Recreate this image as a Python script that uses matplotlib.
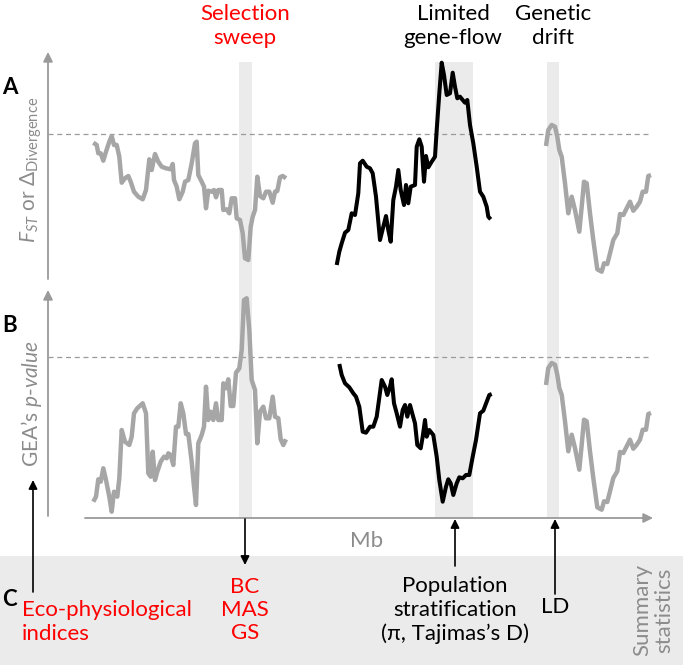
import numpy as np
import matplotlib
matplotlib.use("Agg")
import matplotlib.pyplot as plt

plt.rcParams['font.family'] = ['Lato', 'DejaVu Sans']
plt.rcParams['mathtext.fontset'] = 'custom'
plt.rcParams['mathtext.rm'] = 'Lato'
plt.rcParams['mathtext.it'] = 'Lato:italic'

# curves, in picture units (x to the right, y downwards)
a_left_x = [93.3, 96.7, 98.3, 100.7, 103.3, 106, 109.3, 111.7, 114, 116.7, 119.3, 121.7, 125, 128.3,
            130.7, 134, 138.3, 142.7, 146, 149.3, 151.7, 155, 158.3, 161.7, 166, 170.7, 172.7, 174,
            176.7, 179.3, 182.7, 185, 188.3, 191.7, 195, 196.7, 198.3, 201.7, 204, 206, 208.3, 211.7,
            214, 216, 218.3, 221.7, 223.3, 226.7, 229.3, 231.7, 235, 236.7, 240, 242.7, 245, 248.3,
            250.7, 252.7, 255, 257.3, 260, 263.3, 266, 269.3, 272.7, 275, 277.3, 280, 282.7, 286]
a_left_y = [142.7, 145, 153.3, 153.3, 160.7, 151.7, 141.7, 136, 145, 145, 156.7, 182.7, 178.3, 176,
            181.7, 191.7, 196.7, 199.3, 190, 159.3, 170, 154, 161.7, 166.7, 168.3, 169.3, 164, 180,
            186.7, 199.3, 191.7, 181.7, 180, 163.3, 143.3, 141.7, 175, 181.7, 186.7, 208.3, 190.7, 191.7,
            190, 197.3, 190, 190, 210, 209.3, 213.3, 198.3, 198.3, 218.3, 220, 233.3, 258.3, 260,
            226.7, 216.7, 210, 176.7, 196, 198.3, 191.7, 191.7, 202.7, 191.7, 191, 177.3, 176, 178.3]

a_mid_x = [336.7, 339.3, 341.7, 345, 348.3, 351.7, 355, 358.3, 360, 362.7, 366.7, 370, 372.7, 376,
           380, 383.3, 386, 388.3, 390.7, 393.3, 396, 398.3, 400.7, 404, 406, 408.3, 410.7, 415,
           416.7, 419.3, 421.7, 424, 426, 428.3, 431.7, 435, 436.7, 439.3, 441.7, 444, 446.7, 450,
           452.7, 455, 457.3, 460, 462.7, 465, 467.3, 470, 473.3, 476.7, 480, 483.3, 486.7, 488.3, 490.7]
a_mid_y = [265, 251.7, 243.3, 232.7, 230, 213.3, 215, 193.3, 163.3, 160.7, 166.7, 168.3, 173.3, 196.7,
           240, 226.7, 216, 230, 241.7, 200, 186.7, 170, 190, 205, 185, 203.3, 186.7, 185,
           146.7, 139.3, 146.7, 181.7, 156, 167.3, 161.7, 156.7, 130, 93.3, 62.7, 75, 95, 93.3,
           72.7, 86.7, 98.3, 96.7, 100, 102.7, 100, 125, 143.3, 166.7, 191.7, 196.7, 206.7, 216.7, 219.3]

a_right_x = [546, 548.3, 551.7, 555, 557.3, 559.3, 561.7, 565, 568.3, 571.7, 575, 579.3, 581.7, 584,
             586.7, 590, 593.3, 597.3, 601.7, 604, 607.3, 610, 613.3, 617.3, 620, 623.3, 626.7, 630,
             633.3, 636.7, 640, 642.7, 646, 648.3, 651]
a_right_y = [146, 130, 125, 126.7, 136.7, 150, 156.7, 183.3, 213.3, 196.7, 210, 231.7, 206.7, 181.7,
             183.3, 213.3, 240, 269.3, 271.7, 263.3, 264, 253.3, 240, 233.3, 214, 215, 208.3, 201.7,
             210.7, 206.7, 201.7, 191.7, 191.7, 176, 175]

b_left_x = [93.3, 96, 98.3, 100.7, 103.3, 106, 109.3, 111.7, 114, 117.3, 119.3, 121.7, 125, 129.3,
            131.7, 134, 137.3, 142.7, 146, 148.3, 150.7, 152.7, 155, 157.3, 160.7, 164, 166.7, 168.3,
            170.7, 173.3, 176, 178.3, 180.7, 183.3, 186, 188.3, 191.7, 194, 196, 198.3, 201.7, 204,
            206, 208.3, 210.7, 213.3, 216, 218.3, 221.7, 223.3, 226, 228.3, 230.7, 233.3, 236, 239.3,
            241.7, 244, 246.7, 249.3, 251.7, 255, 257.3, 260, 263.3, 266, 269.3, 272.7, 275, 278.3,
            280.7, 283.3, 286]
b_left_y = [501.7, 496.7, 479.3, 481.7, 468.3, 480, 496.7, 511.7, 491.7, 496.7, 478.3, 430, 441.7, 445,
            436.7, 413.3, 408.3, 403.3, 413.3, 473.3, 476.7, 451.7, 480, 471.7, 461.7, 456.7, 458.3, 453.3,
            455, 465, 426.7, 426.7, 403.3, 413.3, 434, 434, 461.7, 486.7, 505, 443.3, 435, 426.7,
            386.7, 420, 411.7, 420, 403.3, 420, 420, 383.3, 388.3, 379.3, 406, 406, 372.7, 368.3,
            350, 300, 298.3, 330, 380, 390, 443.3, 411.7, 406.7, 418.3, 418.3, 396.7, 416.7, 418.3,
            439.3, 445, 439.3]

b_mid_x = [339.3, 341.7, 345, 349.3, 353.3, 356, 359.3, 362.7, 366, 370, 373.3, 376.7, 381.7, 385,
           387.3, 390, 391.7, 394, 396.7, 400, 402.7, 405, 407.3, 410, 412.7, 415, 417.3, 420.7,
           422.7, 425, 426.7, 429.3, 433.3, 436.7, 439.3, 442.7, 446, 448.3, 450.7, 453.3, 456.7, 459.3,
           462.7, 466, 469.3, 472.7, 476, 480, 483.3, 486.7, 489.3, 491.7]
b_mid_y = [364, 375, 383.3, 387.3, 393.3, 396.7, 406.7, 431.7, 432.7, 426.7, 426.7, 416.7, 380, 386.7,
           395, 386.7, 379.3, 403.3, 413.3, 426.7, 410, 405, 416.7, 405, 415, 423.3, 445, 448.3,
           436.7, 420, 436.7, 430, 435, 456.7, 480, 501.7, 486.7, 479.3, 483.3, 495, 483.3, 477.3,
           478.3, 475, 475, 456.7, 440, 413.3, 410.7, 401.7, 395, 394]

b_right_x = [546, 548.3, 551.7, 555, 557.3, 559.3, 561.7, 565, 568.3, 571.7, 575, 579.3, 581.7, 584,
             586.7, 590, 593.3, 597.3, 601.7, 604, 607.3, 610, 613.3, 617.3, 620, 623.3, 626.7, 630,
             633.3, 636.7, 640, 642.7, 646, 648.3, 651]
b_right_y = [385, 368, 363, 364.7, 374.7, 388, 394.7, 421.3, 451.3, 434.7, 448, 469.7, 444.7, 419.7,
             421.3, 451.3, 478, 507.3, 509.7, 501.3, 502, 491.3, 478, 471.3, 452, 453, 446.3, 439.7,
             448.7, 444.7, 439.7, 429.7, 429.7, 414, 413]

top_labels = ["Selection\nsweep", "Limited\ngene-flow", "Genetic\ndrift"]
c_labels = ["BC\nMAS\nGS", "Population\nstratification\n(π, Tajimas’s D)", "LD"]

GRAY = '#a6a6a6'
AXGRAY = '#9a9a9a'
TXTGRAY = '#8c8c8c'
BAND = '#ebebeb'
RED = '#ff0000'

fig = plt.figure(figsize=(6.85, 6.65), dpi=100)
ax = fig.add_axes([0, 0, 1, 1])
ax.set_xlim(0, 685)
ax.set_ylim(665, 0)
ax.axis('off')

# shaded bands
ax.axhspan(556, 665, xmin=0, xmax=683 / 685, color=BAND, lw=0, zorder=0)
for x0, x1 in [(239, 252), (435, 473), (547, 559)]:
    ax.fill_between([x0, x1], 62, 518, color=BAND, lw=0, zorder=0)

# threshold lines
for yy in [134, 357]:
    ax.plot([48, 650], [yy, yy], color=AXGRAY, lw=0.9, ls=(0, (4, 3)), zorder=1)

# axes with arrow heads
arr = dict(arrowstyle='-|>', color=AXGRAY, lw=1.3, mutation_scale=14, shrinkA=0, shrinkB=0)
ax.annotate('', xy=(48, 52), xytext=(48, 279), arrowprops=arr)
ax.annotate('', xy=(48, 290), xytext=(48, 516), arrowprops=arr)
ax.annotate('', xy=(653, 518), xytext=(85, 518), arrowprops=arr)

# curves
for xs, ys, c, lw in [(a_left_x, a_left_y, GRAY, 3.2), (a_mid_x, a_mid_y, 'black', 2.9),
                      (a_right_x, a_right_y, GRAY, 3.2), (b_left_x, b_left_y, GRAY, 3.2),
                      (b_mid_x, b_mid_y, 'black', 2.9), (b_right_x, b_right_y, GRAY, 3.2)]:
    ax.plot(xs, ys, color=c, lw=lw, solid_joinstyle='round', solid_capstyle='butt', zorder=3)

# black pointer arrows
barr = dict(arrowstyle='-|>', color='black', lw=1.2, mutation_scale=13, shrinkA=0, shrinkB=0)
ax.annotate('', xy=(33, 480), xytext=(33, 592), arrowprops=barr)
ax.annotate('', xy=(245, 565), xytext=(245, 519), arrowprops=barr)
ax.annotate('', xy=(455, 519), xytext=(455, 566), arrowprops=barr)
ax.annotate('', xy=(555, 519), xytext=(555, 594), arrowprops=barr)

fs = 16
ls = 1.2
ax.text(245, 26, top_labels[0], color=RED, fontsize=fs, ha='center', va='center', linespacing=ls)
ax.text(453, 26, top_labels[1], color='black', fontsize=fs, ha='center', va='center', linespacing=ls)
ax.text(553, 26, top_labels[2], color='black', fontsize=fs, ha='center', va='center', linespacing=ls)

ax.text(245, 610, c_labels[0], color=RED, fontsize=fs, ha='center', va='center', linespacing=ls)
ax.text(455, 610, c_labels[1], color='black', fontsize=fs, ha='center', va='center', linespacing=ls)
ax.text(555, 607, c_labels[2], color='black', fontsize=fs, ha='center', va='center')
ax.text(22, 622, "Eco-physiological\nindices", color=RED, fontsize=fs, ha='left', va='center',
        linespacing=ls)
ax.text(653, 610, "Summary\nstatistics", color=TXTGRAY, fontsize=fs, ha='center', va='center',
        rotation=90, linespacing=1.15)
ax.text(367, 541, "Mb", color=TXTGRAY, fontsize=fs, ha='center', va='center')

ax.text(31, 170, r"$F_{ST}$ or $\Delta_{\rm Divergence}$", color=TXTGRAY, fontsize=15,
        ha='center', va='center', rotation=90)
ax.text(32, 404, r"GEA’s $p$-$value$", color=TXTGRAY, fontsize=15,
        ha='center', va='center', rotation=90)

for lab, yy in [("A", 88), ("B", 326), ("C", 600)]:
    ax.text(2, yy, lab, fontsize=16, fontweight='bold', ha='left', va='center')

fig.savefig("out.png", dpi=100)
